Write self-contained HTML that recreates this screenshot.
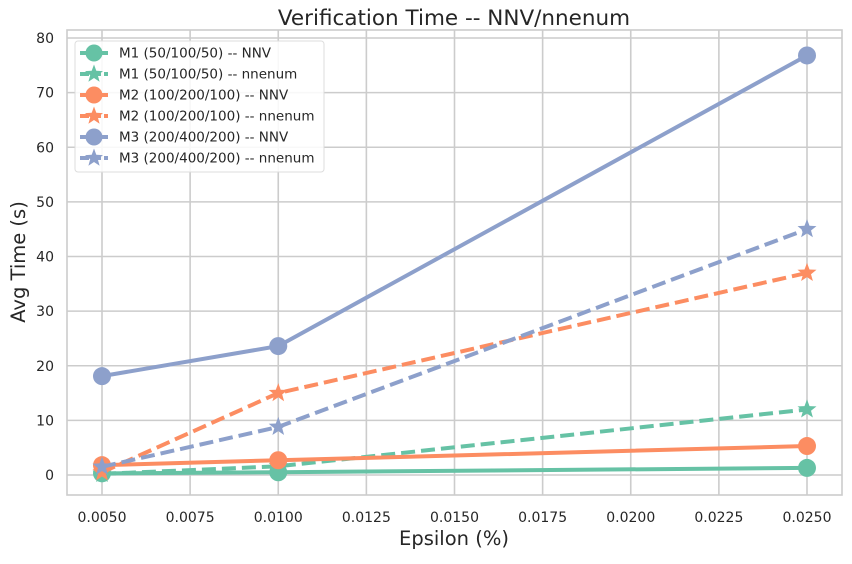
<!DOCTYPE html>
<html><head><meta charset="utf-8"><style>
body{margin:0;background:#fff;font-family:"Liberation Sans","DejaVu Sans",sans-serif}
svg text{font-family:"DejaVu Sans","Liberation Sans",sans-serif;fill:#262626}
</style></head><body>
<svg id="chart" width="852" height="559" xmlns="http://www.w3.org/2000/svg"></svg>
<script>
const xValues=[0.005,0.010,0.025];
const seriesNames=["M1 (50/100/50) -- NNV","M1 (50/100/50) -- nnenum","M2 (100/200/100) -- NNV","M2 (100/200/100) -- nnenum","M3 (200/400/200) -- NNV","M3 (200/400/200) -- nnenum"];
const m1Nnv=[0.3,0.5,1.3];
const m1Nnenum=[0.2,1.6,12.0];
const m2Nnv=[1.8,2.7,5.3];
const m2Nnenum=[0.5,15.0,37.0];
const m3Nnv=[18.1,23.6,76.8];
const m3Nnenum=[1.5,8.8,45.0];
const xTicks=[0.005,0.0075,0.01,0.0125,0.015,0.0175,0.02,0.0225,0.025];
const xTickLabels=["0.0050","0.0075","0.0100","0.0125","0.0150","0.0175","0.0200","0.0225","0.0250"];
const yTicks=[0,10,20,30,40,50,60,70,80];

const svg=document.getElementById('chart');
const NS="http://www.w3.org/2000/svg";
const L=67,R=842,T=30,B=495;
const xs=v=>102+(v-0.005)/0.02*705;
const ys=v=>475-v/80*437;
function el(tag,attrs,parent){const e=document.createElementNS(NS,tag);for(const k in attrs)e.setAttribute(k,attrs[k]);(parent||svg).appendChild(e);return e;}

const grid=el('g',{});


xTicks.forEach((t,i)=>{
  el('line',{x1:xs(t),x2:xs(t),y1:T,y2:B,stroke:'#cccccc','stroke-width':1.6},grid);
  const tx=el('text',{x:xs(t),y:B+27,'text-anchor':'middle','font-size':14});
  tx.textContent=xTickLabels[i];
  
  
});
yTicks.forEach(t=>{
  el('line',{x1:L,x2:R,y1:ys(t),y2:ys(t),stroke:'#cccccc','stroke-width':1.6},grid);
  const ty=el('text',{x:L-13,y:ys(t)+5,'text-anchor':'end','font-size':14});
  ty.textContent=t;
  
  
});
el('rect',{x:L,y:T,width:R-L,height:B-T,fill:'none',stroke:'#cccccc','stroke-width':1.6});

function star(cx,cy,r){let p=[];for(let i=0;i<10;i++){const a=-Math.PI/2+i*Math.PI/5;const rr=i%2?r*0.42:r;p.push((cx+rr*Math.cos(a)).toFixed(1)+','+(cy+rr*Math.sin(a)).toFixed(1));}return p.join(' ');}

const series=[[m1Nnv,'#66c2a5',false],[m1Nnenum,'#66c2a5',true],[m2Nnv,'#fc8d62',false],[m2Nnenum,'#fc8d62',true],[m3Nnv,'#8da0cb',false],[m3Nnenum,'#8da0cb',true]];
series.forEach((s,k)=>{
  const [vals,c,dash]=s;
  const g=el('g',{});
  
  
  const pts=vals.map((v,i)=>xs(xValues[i])+','+ys(v)).join(' ');
  el('polyline',{points:pts,fill:'none',stroke:c,'stroke-width':4,'stroke-dasharray':dash?'14,6':'none'},g);
  vals.forEach((v,i)=>{
    let m;
    if(dash) m=el('polygon',{points:star(xs(xValues[i]),ys(v),10),fill:c},g);
    else m=el('circle',{cx:xs(xValues[i]),cy:ys(v),r:9,fill:c},g);
    
    
  });
});

const lg=el('g',{});


el('rect',{x:75,y:41,width:249,height:131,rx:3,fill:'#ffffff','fill-opacity':0.85,stroke:'#dddddd'},lg);
series.forEach((s,k)=>{
  const [vals,c,dash]=s;const y=53+k*21;
  const e=el('g',{},lg);
  
  
  el('line',{x1:80,x2:108,y1:y,y2:y,stroke:c,'stroke-width':4,'stroke-dasharray':dash?'9,3':'none'},e);
  if(dash) el('polygon',{points:star(94,y,9.5),fill:c},e); else el('circle',{cx:94,cy:y,r:8.5,fill:c},e);
  const t=el('text',{x:119,y:y+4.5,'font-size':13.5},e);t.textContent=seriesNames[k];
});

const title=el('text',{x:454,y:25,'text-anchor':'middle','font-size':21.5});
title.textContent='Verification Time -- NNV/nnenum';


const xt=el('text',{x:454,y:545,'text-anchor':'middle','font-size':19.5});
xt.textContent='Epsilon (%)';


const yt=el('text',{x:0,y:0,'text-anchor':'middle','font-size':19.5,transform:'translate(25,262) rotate(-90)'});
yt.textContent='Avg Time (s)';


</script>
</body></html>
